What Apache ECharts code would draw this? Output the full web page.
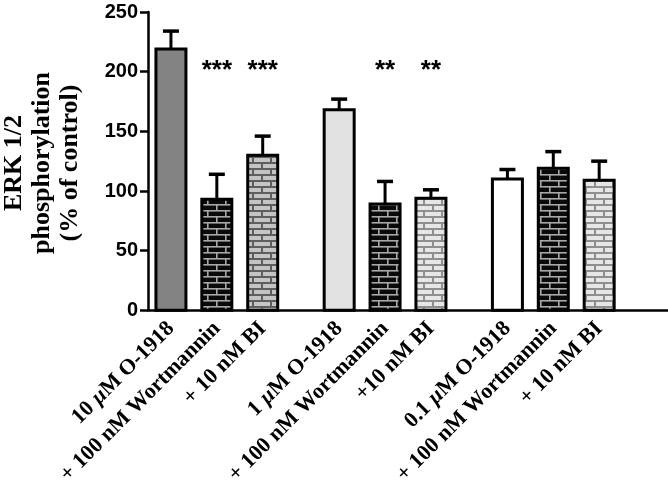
<!DOCTYPE html>
<html><head><meta charset="utf-8">
<script src="https://cdn.jsdelivr.net/npm/echarts@6/dist/echarts.min.js"></script>
<style>html,body{margin:0;padding:0;background:#fff}#c{width:668px;height:488px}</style>
</head><body><div id="c"></div>
<script>
// ---- data ----
const labels = ['10 µM O-1918', '+ 100 nM Wortmannin', '+ 10 nM BI',
                '1 µM O-1918', '+ 100 nM Wortmannin', '+10 nM BI',
                '0.1 µM O-1918', '+ 100 nM Wortmannin', '+ 10 nM BI'];
const values = [219, 93, 130, 168, 89, 94, 110, 119, 109];
const errors = [15, 21, 16, 9, 19, 7, 8, 14, 16];
const signif = ['', '***', '***', '', '**', '**', '', '', ''];
const yTicks = [0, 50, 100, 150, 200, 250];
const yTitle = ['ERK 1/2', 'phosphorylation', '(% of control)'];

// ---- layout of category slots (gaps between groups) ----
const LEAD = 1, STEP = 3, GROUP_GAP = 5, PER_GROUP = 3;
const slotOf = i => LEAD + Math.floor(i / PER_GROUP) * ((PER_GROUP - 1) * STEP + GROUP_GAP) + (i % PER_GROUP) * STEP;
const barSlots = labels.map((_, i) => slotOf(i));
const endTick = barSlots[barSlots.length - 1] + STEP;
const TOTAL = endTick + 2;
const cats = Array.from({length: TOTAL}, (_, k) => '');
barSlots.forEach((s, i) => cats[s] = labels[i]);
const labelSet = new Set(barSlots);
const tickSet = new Set([...barSlots, endTick]);
const STAR_Y = 201;

// ---- patterns ----
function brick(bg, mortar, lw) {
  const c = document.createElement('canvas');
  const w = 18, h = 12;
  c.width = w; c.height = h;
  const g = c.getContext('2d');
  g.fillStyle = bg; g.fillRect(0, 0, w, h);
  g.fillStyle = mortar;
  g.fillRect(0, 0, w, lw);
  g.fillRect(0, h / 2, w, lw);
  g.fillRect(0, 0, lw, h / 2);
  g.fillRect(w / 2, h / 2, lw, h / 2);
  return {image: c, repeat: 'repeat'};
}
const darkBrick = brick('#0a0a0a', '#a8a8a8', 1.6);
const grayBrickDark = brick('#c4c4c4', '#5e5e5e', 2);
const grayBrickLight = brick('#e6e6e6', '#8e8e8e', 2);
const fills = ['#838383', darkBrick, grayBrickDark,
               '#e2e2e2', darkBrick, grayBrickLight,
               '#ffffff', darkBrick, grayBrickLight];

const seriesData = values.map((v, i) => [barSlots[i], v, errors[i]]);

function renderBar(params, api) {
  const i = params.dataIndex;
  const x = api.value(0), v = api.value(1), e = api.value(2);
  const top = api.coord([x, v]);
  const base = api.coord([x, 0]);
  const cap = api.coord([x, v + e]);
  const W = 30, CAP = 16;
  const ch = [
    {type: 'line', shape: {x1: top[0], y1: top[1], x2: top[0], y2: cap[1]}, style: {stroke: '#000', lineWidth: 3}},
    {type: 'line', shape: {x1: top[0] - CAP / 2, y1: cap[1], x2: top[0] + CAP / 2, y2: cap[1]}, style: {stroke: '#000', lineWidth: 3.5}},
    {type: 'rect', shape: {x: top[0] - W / 2, y: top[1], width: W, height: base[1] - top[1]},
     style: {fill: fills[i], stroke: '#000', lineWidth: 3}}
  ];
  if (signif[i]) {
    ch.push({type: 'text', x: top[0], y: api.coord([x, STAR_Y])[1],
      style: {text: signif[i], font: 'bold 26px "Liberation Sans", Arial', align: 'center', verticalAlign: 'middle', fill: '#000'}});
  }
  return {type: 'group', children: ch};
}

const chart = echarts.init(document.getElementById('c'), null, {renderer: 'canvas'});
chart.setOption({
  animation: false,
  backgroundColor: '#fff',
  grid: {left: 148, right: 0, top: 12, bottom: 175, containLabel: false},
  xAxis: {
    type: 'category', data: cats, boundaryGap: true,
    axisLine: {lineStyle: {color: '#000', width: 2.5}},
    axisTick: {alignWithLabel: true, interval: idx => tickSet.has(idx), length: 8, lineStyle: {color: '#000', width: 2.5}},
    axisLabel: {
      interval: idx => labelSet.has(idx), rotate: 45, margin: 15,
      fontFamily: '"Liberation Serif", "Times New Roman", serif', fontWeight: 'bold', fontSize: 22, color: '#000',
      formatter: v => v.replace('µ', '{i|µ}'),
      rich: {i: {fontStyle: 'italic', fontWeight: 'bold', fontFamily: '"Liberation Serif", serif', fontSize: 22, color: '#000'}}
    },
    splitLine: {show: false}
  },
  yAxis: {
    type: 'value', min: yTicks[0], max: yTicks[yTicks.length - 1], interval: yTicks[1] - yTicks[0],
    axisLine: {show: true, lineStyle: {color: '#000', width: 2.5}},
    axisTick: {show: true, length: 8, lineStyle: {color: '#000', width: 2.5}},
    axisLabel: {margin: 10, fontFamily: '"Liberation Sans", Arial, sans-serif', fontWeight: 'bold', fontSize: 20, color: '#000'},
    splitLine: {show: false}
  },
  graphic: [{
    type: 'text', rotation: Math.PI / 2, x: 42, y: 163,
    style: {text: yTitle.join('\n'), font: 'bold 26px "Liberation Serif", "Times New Roman", serif',
      align: 'center', verticalAlign: 'middle', lineHeight: 28, fill: '#000'}
  }],
  series: [{
    type: 'custom', renderItem: renderBar, data: seriesData,
    encode: {x: 0, y: 1}, clip: false
  }]
});
</script></body></html>
